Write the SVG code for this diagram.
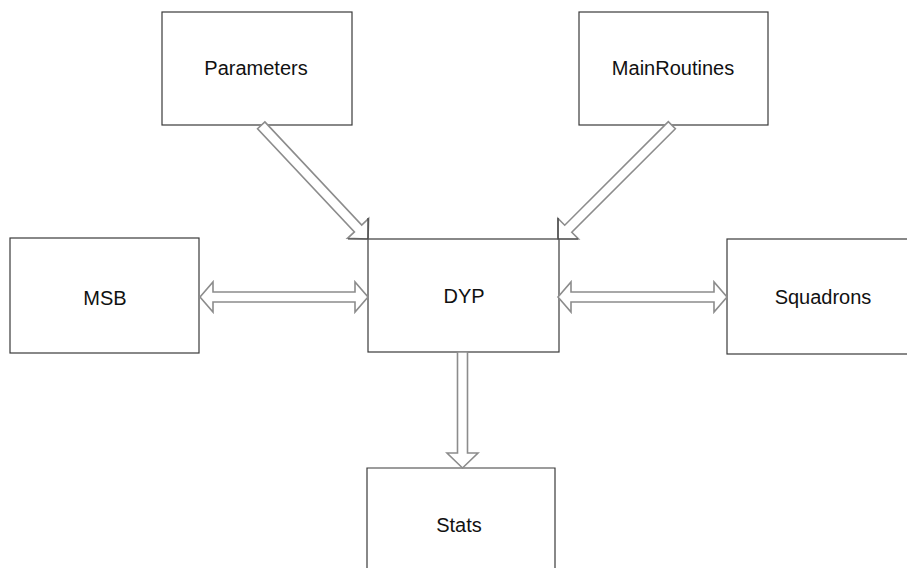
<svg xmlns="http://www.w3.org/2000/svg" width="907" height="579" viewBox="0 0 907 579">
<style>
.box{fill:#fff;stroke:#3a3a3a;stroke-width:1.2}
.lbl{font-family:"Liberation Sans",Arial,sans-serif;font-size:20px;fill:#111;text-anchor:middle}
.arr{fill:#fff;stroke:#8c8c8c;stroke-width:1.6;stroke-linejoin:miter}
.edge{fill:none;stroke:#3a3a3a;stroke-width:1.2}
</style>
<rect width="907" height="579" fill="#fff"/>
<g id="Parameters"><rect class="box" x="162" y="12" width="190" height="113"/><text class="lbl" x="256" y="75">Parameters</text></g>
<g id="MainRoutines"><rect class="box" x="579" y="12" width="189" height="113"/><text class="lbl" x="673" y="75">MainRoutines</text></g>
<g id="MSB"><rect class="box" x="10" y="238" width="189" height="115"/><text class="lbl" x="105" y="305">MSB</text></g>
<g id="DYP"><rect class="box" x="368" y="239" width="191" height="113"/><text class="lbl" x="464" y="303">DYP</text></g>
<g id="Squadrons"><rect class="box" x="727" y="239" width="200" height="115"/><text class="lbl" x="823" y="304">Squadrons</text></g>
<g id="Stats"><path class="box" d="M367,568 V468 H555 V568" fill="none"/><text class="lbl" x="459" y="532">Stats</text></g>
<g id="connectors">
<polygon class="arr" transform="translate(368,239) rotate(46.8)" points="-156,-5 -14.5,-5 -14.5,-14.5 0,0 -14.5,14.5 -14.5,5 -156,5"/>
<polyline class="edge" points="348,239 368,239 368,218"/>
<polygon class="arr" transform="translate(558,239) rotate(135)" points="-161,-5 -14.5,-5 -14.5,-14.5 0,0 -14.5,14.5 -14.5,5 -161,5"/>
<polyline class="edge" points="578,239 558,239 558,218"/>
<polygon class="arr" points="200,297 213,282 213,292 355,292 355,282 368,297 355,312 355,302 213,302 213,312"/>
<polygon class="arr" points="558,297 571,282 571,292 714,292 714,282 727,297 714,312 714,302 571,302 571,312"/>
<polygon class="arr" points="457.5,352 467.5,352 467.5,453 478,453 462.5,468 447,453 457.5,453"/>
</g>
</svg>
